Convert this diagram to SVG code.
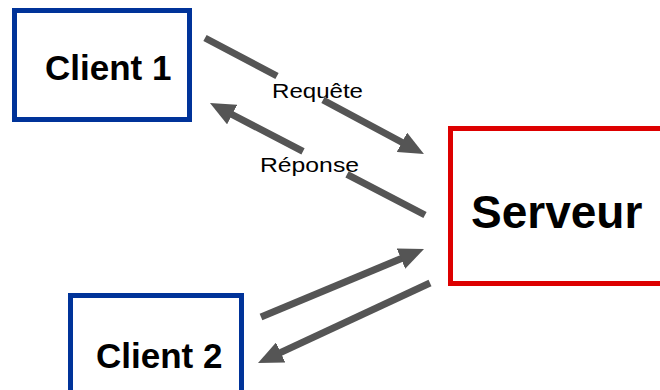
<svg xmlns="http://www.w3.org/2000/svg" width="660" height="390" viewBox="0 0 660 390">
<style>
.box{fill:#fff;stroke-width:5}
.client{stroke:#003399}
.server{stroke:#dd0000}
.name{font-family:"Liberation Sans",Arial,sans-serif;font-weight:bold;fill:#000}
.lbl{font-family:"Liberation Sans",Arial,sans-serif;font-size:21px;fill:#000}
.arr{fill:none;stroke:#555;stroke-width:7}
</style>
<defs>
<marker id="ah" viewBox="0 0 25 22" refX="11" refY="11" markerWidth="25" markerHeight="22" markerUnits="userSpaceOnUse" orient="auto">
<path d="M0,0 L25,11 L0,22 z" fill="#555"/>
</marker>
</defs>
<rect width="660" height="390" fill="#fff"/>
<g id="client1">
<rect class="box client" x="14.5" y="10.5" width="175" height="109"/>
<text class="name" x="45" y="80" font-size="35">Client 1</text>
</g>
<g id="client2">
<rect class="box client" x="70.5" y="295.5" width="171" height="110"/>
<text class="name" x="96" y="368" font-size="35">Client 2</text>
</g>
<g id="serveur">
<rect class="box server" x="450.5" y="128.5" width="230" height="155"/>
<text class="name" x="471" y="228" font-size="46">Serveur</text>
</g>
<g id="connectors">
<path class="arr" d="M205,38 L277,76 M323,100 L411.6,147.5" marker-end="url(#ah)"/>
<path class="arr" d="M425,215 L347,174.4 M303,151.4 L222.4,109.5" marker-end="url(#ah)"/>
<path class="arr" d="M261,317 L411.1,254.4" marker-end="url(#ah)"/>
<path class="arr" d="M430,283 L270.7,357.1" marker-end="url(#ah)"/>
<text class="lbl" x="272" y="98" textLength="91" lengthAdjust="spacingAndGlyphs">Requête</text>
<text class="lbl" x="260" y="172" textLength="99" lengthAdjust="spacingAndGlyphs">Réponse</text>
</g>
</svg>
